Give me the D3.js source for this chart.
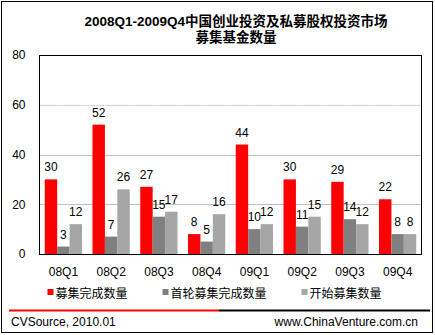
<!DOCTYPE html>
<html>
<head>
<meta charset="utf-8">
<script src="https://cdn.jsdelivr.net/npm/d3@7"></script>
<style>
  html, body { margin: 0; padding: 0; background: #fff; }
  svg { display: block; font-family: "Liberation Sans", Arial, "Noto Sans CJK SC", sans-serif; }
</style>
</head>
<body>
<svg id="chart" width="435" height="335"></svg>
<script>
const categories = ["08Q1", "08Q2", "08Q3", "08Q4", "09Q1", "09Q2", "09Q3", "09Q4"];
const seriesNames = ["募集完成数量", "首轮募集完成数量", "开始募集数量"];
const raisedDone = [30, 52, 27, 8, 44, 30, 29, 22];
const firstCloseDone = [3, 7, 15, 5, 10, 11, 14, 8];
const startedRaising = [12, 26, 17, 16, 12, 15, 12, 8];
const yTicks = [0, 20, 40, 60, 80];
const titleLines = ["2008Q1-2009Q4中国创业投资及私募股权投资市场", "募集基金数量"];
const sourceText = "CVSource, 2010.01";
const siteText = "www.ChinaVenture.com.cn";

const seriesValues = [raisedDone, firstCloseDone, startedRaising];
const colors = ["#ff0000", "#808080", "#a6a6a6"];

const svg = d3.select("#chart");

// outer frame
svg.append("rect").attr("x", 1.5).attr("y", 1.5).attr("width", 431).attr("height", 331)
  .attr("fill", "none").attr("stroke", "#000").attr("stroke-width", 1);

// title
svg.selectAll("text.title").data(titleLines).enter().append("text")
  .attr("class", "title")
  .attr("x", 236).attr("y", (d, i) => 26 + i * 16)
  .attr("text-anchor", "middle")
  .attr("font-size", 13.5).attr("font-weight", "bold").attr("fill", "#000")
  .text(d => d);

const plotLeft = 39.5, plotRight = 421.5, plotTop = 55, plotBottom = 254;

const x0 = d3.scaleBand().domain(categories).range([plotLeft, plotRight]).paddingInner(0.22).paddingOuter(0.11);
const x1 = d3.scaleBand().domain(seriesNames).range([0, x0.bandwidth()]);
const y = d3.scaleLinear().domain([0, 80]).range([plotBottom, plotTop]);

// gridlines
const grid = svg.append("g");
yTicks.filter(t => t > 0 && t < 80).forEach(t => {
  grid.append("line")
    .attr("x1", plotLeft).attr("x2", plotRight)
    .attr("y1", Math.round(y(t)) + 0.5).attr("y2", Math.round(y(t)) + 0.5)
    .attr("stroke", "#c0c0c0").attr("stroke-width", 1)
    .attr("stroke-dasharray", t === 60 ? "2,1" : null);
});

// bars
const groups = svg.append("g").selectAll("g").data(categories).enter().append("g")
  .attr("transform", d => `translate(${x0(d)},0)`);

groups.selectAll("rect").data((c, ci) => seriesNames.map((s, si) => ({ s, si, v: seriesValues[si][ci] })))
  .enter().append("rect")
  .attr("x", d => x1(d.s))
  .attr("y", d => y(d.v))
  .attr("width", x1.bandwidth())
  .attr("height", d => y(0) - y(d.v))
  .attr("fill", d => colors[d.si]);

groups.selectAll("text").data((c, ci) => seriesNames.map((s, si) => ({ s, si, v: seriesValues[si][ci] })))
  .enter().append("text")
  .attr("x", d => x1(d.s) + x1.bandwidth() / 2)
  .attr("y", d => y(d.v) - 8)
  .attr("text-anchor", "middle")
  .attr("font-size", 12).attr("fill", "#000")
  .text(d => d.v);

// plot frame
svg.append("rect").attr("x", plotLeft).attr("y", plotTop + 0.5).attr("width", plotRight - plotLeft).attr("height", plotBottom - plotTop)
  .attr("fill", "none").attr("stroke", "#000").attr("stroke-width", 1);

// y axis labels
const yAxis = d3.axisLeft(y).tickValues(yTicks).tickSize(0).tickPadding(14);
const yg = svg.append("g").attr("transform", `translate(${plotLeft},0)`).call(yAxis);
yg.select(".domain").remove();
yg.selectAll("text").attr("font-size", 12).attr("fill", "#000")
  .style("font-family", "\"Liberation Sans\", Arial, sans-serif");

// x axis labels
const xAxis = d3.axisBottom(x0).tickSize(0).tickPadding(13);
const xg = svg.append("g").attr("transform", `translate(0,${plotBottom})`).call(xAxis);
xg.select(".domain").remove();
xg.selectAll("text").attr("font-size", 12).attr("fill", "#000")
  .style("font-family", "\"Liberation Sans\", Arial, sans-serif");

// legend
const legendX = [47.5, 162.5, 301.5];
const legend = svg.append("g").selectAll("g").data(seriesNames).enter().append("g")
  .attr("transform", (d, i) => `translate(${legendX[i]},289)`);
legend.append("rect").attr("width", 6).attr("height", 6).attr("fill", (d, i) => colors[i]);
legend.append("text").attr("x", 8).attr("y", 8.5)
  .attr("font-size", 12).attr("fill", "#000").text(d => d);

// footer divider
svg.append("line").attr("x1", 9).attr("x2", 219).attr("y1", 310.5).attr("y2", 310.5)
  .attr("stroke", "#ff0000").attr("stroke-width", 2);
svg.append("line").attr("x1", 219).attr("x2", 430).attr("y1", 310.5).attr("y2", 310.5)
  .attr("stroke", "#000").attr("stroke-width", 2);

svg.append("text").attr("x", 11).attr("y", 326).attr("font-size", 12).attr("fill", "#000").text(sourceText);
svg.append("text").attr("x", 418).attr("y", 326).attr("text-anchor", "end").attr("font-size", 12).attr("fill", "#000").text(siteText);
</script>
</body>
</html>
